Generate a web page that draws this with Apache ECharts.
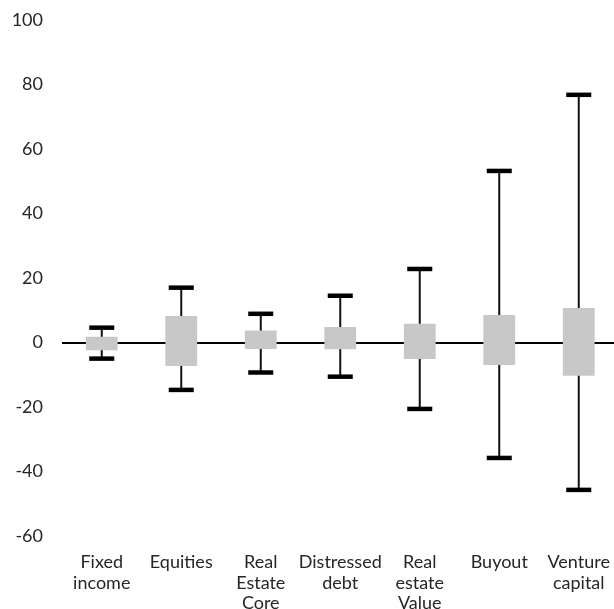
<!DOCTYPE html>
<html>
<head>
<meta charset="utf-8">
<script src="https://cdn.jsdelivr.net/npm/echarts@6/dist/echarts.min.js"></script>
<style>html,body{margin:0;padding:0;background:#fff}#c{width:614px;height:609px}</style>
</head>
<body>
<div id="c"></div>
<script>
const categories = ['Fixed\nincome', 'Equities', 'Real\nEstate\nCore', 'Distressed\ndebt', 'Real\nestate\nValue', 'Buyout', 'Venture\ncapital'];
const whiskerLow  = [-5.0, -14.7, -9.3, -10.6, -20.6, -35.8, -45.7];
const boxLow      = [-2.4, -7.3, -2.0, -2.1, -5.1, -7.0, -10.3];
const boxHigh     = [1.8, 8.2, 3.7, 4.8, 5.8, 8.5, 10.7];
const whiskerHigh = [4.6, 17.0, 8.9, 14.5, 22.8, 53.2, 76.8];
const yTicks = { min: -60, max: 100, interval: 20 };

const data = categories.map((c, i) => [i, whiskerLow[i], boxLow[i], boxHigh[i], whiskerHigh[i]]);
const chart = echarts.init(document.getElementById('c'));
const FONT = 'Lato';
chart.setOption({
  animation: false,
  grid: { left: 62, right: -4.5, top: 20, bottom: 73, containLabel: false, outerBoundsMode: 'none' },
  xAxis: {
    type: 'category', data: categories, position: 'bottom',
    axisLine: { show: false }, axisTick: { show: false },
    axisLabel: { color: '#262626', fontFamily: FONT, fontSize: 18, lineHeight: 20.5, margin: 16, interval: 0 }
  },
  yAxis: {
    type: 'value', min: yTicks.min, max: yTicks.max, interval: yTicks.interval,
    axisLine: { show: false }, axisTick: { show: false }, splitLine: { show: false },
    axisLabel: { color: '#262626', fontFamily: FONT, fontSize: 18, margin: 19 }
  },
  series: [{
    type: 'custom',
    data: data,
    encode: { x: 0, y: [1, 2, 3, 4] },
    markLine: {
      silent: true, symbol: 'none', label: { show: false },
      lineStyle: { color: '#000', width: 2, type: 'solid' },
      data: [{ yAxis: 0 }], z: 1
    },
    z: 3,
    renderItem: function (params, api) {
      const i = api.value(0);
      const pLo = api.coord([i, api.value(1)]);
      const pBl = api.coord([i, api.value(2)]);
      const pBh = api.coord([i, api.value(3)]);
      const pHi = api.coord([i, api.value(4)]);
      const band = api.size([1, 0])[0];
      const bw = band * 0.40;
      const cw = band * 0.315;
      const ct = 4.5;
      const x = pLo[0];
      return {
        type: 'group',
        children: [
          { type: 'line', shape: { x1: x, y1: pHi[1], x2: x, y2: pLo[1] }, style: { stroke: '#111', lineWidth: 2 } },
          { type: 'rect', shape: { x: x - cw / 2, y: pHi[1] - ct / 2, width: cw, height: ct }, style: { fill: '#000' } },
          { type: 'rect', shape: { x: x - cw / 2, y: pLo[1] - ct / 2, width: cw, height: ct }, style: { fill: '#000' } },
          { type: 'rect', shape: { x: x - bw / 2, y: pBh[1], width: bw, height: pBl[1] - pBh[1] }, style: { fill: '#c8c8c8' } }
        ]
      };
    }
  }]
});
</script>
</body>
</html>
